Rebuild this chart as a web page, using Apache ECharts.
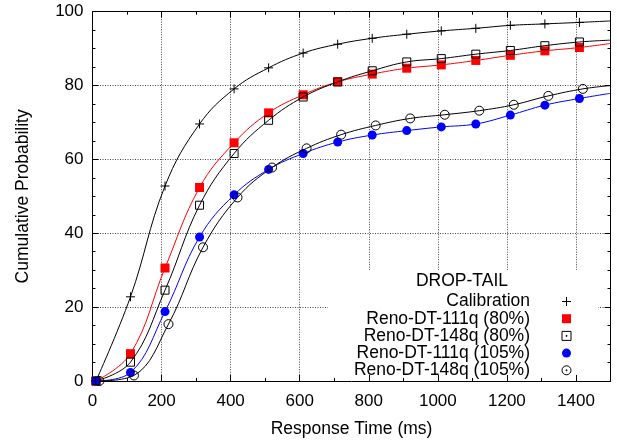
<!DOCTYPE html>
<html>
<head>
<meta charset="utf-8">
<script src="https://cdn.jsdelivr.net/npm/echarts@6/dist/echarts.min.js"></script>
<style>
html,body{margin:0;padding:0;background:#fff;}
#chart{width:617px;height:443px;}
</style>
</head>
<body>
<div id="chart"></div>
<script>
// ---- data ----
var xTicks = [0, 200, 400, 600, 800, 1000, 1200, 1400];
var yTicks = [0, 20, 40, 60, 80, 100];
var xA = [10, 110, 210, 310, 410, 510, 610, 710, 810, 910, 1010, 1110, 1210, 1310, 1410];
var xB = [20, 120, 220, 320, 420, 520, 620, 720, 820, 920, 1020, 1120, 1220, 1320, 1420];
var xEnd = 1500;

var calibration = [0, 22.8, 52.8, 69.6, 79.1, 84.8, 88.8, 91.2, 92.8, 93.9, 94.8, 95.5, 96.3, 96.7, 97.1];
var calibrationEnd = 97.5;
var reno111q80 = [0, 7.4, 30.6, 52.4, 64.5, 72.6, 77.5, 81.0, 83.1, 84.7, 85.6, 86.8, 88.2, 89.4, 90.3];
var reno111q80End = 91.4;
var reno148q80 = [0, 5.1, 24.6, 47.6, 61.6, 70.6, 76.9, 81.0, 84.0, 86.4, 87.3, 88.5, 89.5, 90.8, 91.8];
var reno148q80End = 92.3;
var reno111q105 = [0, 2.3, 18.8, 39.0, 50.4, 57.3, 61.6, 64.7, 66.6, 67.8, 68.8, 69.6, 72.0, 74.7, 76.5];
var reno111q105End = 77.9;
var reno148q105 = [0, 1.5, 15.4, 36.2, 49.7, 57.8, 63.0, 66.7, 69.2, 71.1, 72.1, 73.2, 74.8, 77.2, 79.1];
var reno148q105End = 80.0;

var names = ['Calibration', 'Reno-DT-111q (80%)', 'Reno-DT-148q (80%)', 'Reno-DT-111q (105%)', 'Reno-DT-148q (105%)'];
var legendTitle = 'DROP-TAIL';
var xName = 'Response Time (ms)';
var yName = 'Cumulative Probability';

function pairs(xs, ys, endY) {
  var out = xs.map(function (x, i) { return [x, ys[i]]; });
  out.push({ value: [xEnd, endY], symbol: 'none' });
  return out;
}

var FONT = '"Liberation Sans", Arial, Helvetica, sans-serif';
var PLUS = 'path://M0,5H10M5,0V10';
var SQ = 'path://M0,0H10V10H0Z';
var SQDOT = 'path://M0,0H10V10H0ZM4.5,4.5H5.5V5.5H4.5Z';
var CIR = 'path://M10,5A5,5,0,1,1,0,5A5,5,0,1,1,10,5Z';
var CIRDOT = 'path://M10,5A5,5,0,1,1,0,5A5,5,0,1,1,10,5ZM4.5,4.5H5.5V5.5H4.5Z';

var chart = echarts.init(document.getElementById('chart'), null, { renderer: 'canvas' });

function baseX(extra) {
  return Object.assign({
    type: 'value', min: 0, max: 1500, interval: 200, gridIndex: 0
  }, extra);
}
function baseY(extra) {
  return Object.assign({
    type: 'value', min: 0, max: 100, interval: 20, gridIndex: 0
  }, extra);
}

var option = {
  backgroundColor: '#fff',
  animation: false,
  textStyle: { fontFamily: FONT },
  grid: { left: 92.5, right: 6.5, top: 11.7, bottom: 60.7, containLabel: false },
  title: {
    text: legendTitle, left: 462, top: 272.5, textAlign: 'center', padding: 0,
    textStyle: { fontSize: 17.5, fontWeight: 'normal', color: '#000', fontFamily: FONT }
  },
  legend: {
    orient: 'vertical', align: 'right', right: 45.5, top: 292.5, padding: 0,
    itemGap: -0.8, itemWidth: 63, itemHeight: 9, symbolKeepAspect: true,
    selectedMode: false,
    textStyle: { fontSize: 17.5, color: '#000', fontFamily: FONT },
    data: [
      { name: names[0], icon: PLUS, itemStyle: { color: 'transparent', borderColor: '#000', borderWidth: 1 } },
      { name: names[1], icon: SQ, itemStyle: { color: '#ff0000', borderWidth: 0 } },
      { name: names[2], icon: SQDOT, itemStyle: { color: 'transparent', borderColor: '#000', borderWidth: 1 } },
      { name: names[3], icon: CIR, itemStyle: { color: '#0000ff', borderWidth: 0 } },
      { name: names[4], icon: CIRDOT, itemStyle: { color: 'transparent', borderColor: '#000', borderWidth: 1 } }
    ]
  },
  graphic: [
    { type: 'rect', z: 1, silent: true, shape: { x: 328, y: 270, width: 270, height: 111.3 }, style: { fill: '#fff' } }
  ],
  xAxis: [
    baseX({
      position: 'bottom', z: 3,
      name: xName, nameLocation: 'middle', nameGap: 39,
      nameTextStyle: { fontSize: 17.5, color: '#000', fontFamily: FONT },
      axisLine: { show: true, onZero: false, lineStyle: { color: '#000', width: 1 } },
      axisTick: { show: true, inside: true, length: 6, lineStyle: { color: '#000' } },
      minorTick: { show: true, splitNumber: 2, length: 3, lineStyle: { color: '#000' } },
      axisLabel: { show: true, margin: 12, fontSize: 17, color: '#000', fontFamily: FONT,
        showMinLabel: true, showMaxLabel: false,
        formatter: function (v) { return xTicks.indexOf(v) >= 0 ? String(v) : ''; } },
      splitLine: { show: false }
    }),
    baseX({
      position: 'top', z: 3,
      axisLine: { show: true, onZero: false, lineStyle: { color: '#000', width: 1 } },
      axisTick: { show: true, inside: true, length: 6, lineStyle: { color: '#000' } },
      minorTick: { show: true, splitNumber: 2, length: 3, lineStyle: { color: '#000' } },
      axisLabel: { show: false },
      splitLine: { show: false }
    }),
    baseX({
      position: 'bottom', z: 0,
      axisLine: { show: false }, axisTick: { show: false }, axisLabel: { show: false },
      splitLine: { show: true, lineStyle: { color: '#444', width: 1, type: [1, 1.5] } }
    })
  ],
  yAxis: [
    baseY({
      position: 'left', z: 3,
      name: yName, nameLocation: 'middle', nameGap: 60.5,
      nameTextStyle: { fontSize: 17.5, color: '#000', fontFamily: FONT },
      axisLine: { show: true, onZero: false, lineStyle: { color: '#000', width: 1 } },
      axisTick: { show: true, inside: true, length: 6, lineStyle: { color: '#000' } },
      minorTick: { show: true, splitNumber: 4, length: 3, lineStyle: { color: '#000' } },
      axisLabel: { show: true, margin: 9, fontSize: 17, color: '#000', fontFamily: FONT,
        formatter: function (v) { return yTicks.indexOf(v) >= 0 ? String(v) : ''; } },
      splitLine: { show: false }
    }),
    baseY({
      position: 'right', z: 3,
      axisLine: { show: true, onZero: false, lineStyle: { color: '#000', width: 1 } },
      axisTick: { show: true, inside: true, length: 6, lineStyle: { color: '#000' } },
      minorTick: { show: true, splitNumber: 4, length: 3, lineStyle: { color: '#000' } },
      axisLabel: { show: false },
      splitLine: { show: false }
    }),
    baseY({
      position: 'left', z: 0,
      axisLine: { show: false }, axisTick: { show: false }, axisLabel: { show: false },
      splitLine: { show: true, lineStyle: { color: '#444', width: 1, type: [1, 1.5] } }
    })
  ],
  series: [
    {
      name: names[0], type: 'line', z: 4, smooth: 0.4,
      data: pairs(xA, calibration, calibrationEnd),
      symbol: PLUS, symbolSize: 9,
      itemStyle: { color: 'transparent', borderColor: '#000', borderWidth: 1 },
      lineStyle: { color: '#000', width: 1 }
    },
    {
      name: names[1], type: 'line', z: 5, smooth: 0.4,
      data: pairs(xA, reno111q80, reno111q80End),
      symbol: 'rect', symbolSize: 9,
      itemStyle: { color: '#ff0000', borderWidth: 0 },
      lineStyle: { color: '#ff0000', width: 1 }
    },
    {
      name: names[2], type: 'line', z: 6, smooth: 0.4,
      data: pairs(xA, reno148q80, reno148q80End),
      symbol: 'rect', symbolSize: 8,
      itemStyle: { color: 'transparent', borderColor: '#000', borderWidth: 1 },
      lineStyle: { color: '#000', width: 1 }
    },
    {
      name: names[3], type: 'line', z: 5, smooth: 0.4,
      data: pairs(xA, reno111q105, reno111q105End),
      symbol: 'circle', symbolSize: 9,
      itemStyle: { color: '#0000ff', borderWidth: 0 },
      lineStyle: { color: '#0000ff', width: 1 }
    },
    {
      name: names[4], type: 'line', z: 6, smooth: 0.4,
      data: pairs(xB, reno148q105, reno148q105End),
      symbol: 'circle', symbolSize: 9,
      itemStyle: { color: 'transparent', borderColor: '#000', borderWidth: 1 },
      lineStyle: { color: '#000', width: 1 }
    }
  ]
};
chart.setOption(option);
</script>
</body>
</html>
